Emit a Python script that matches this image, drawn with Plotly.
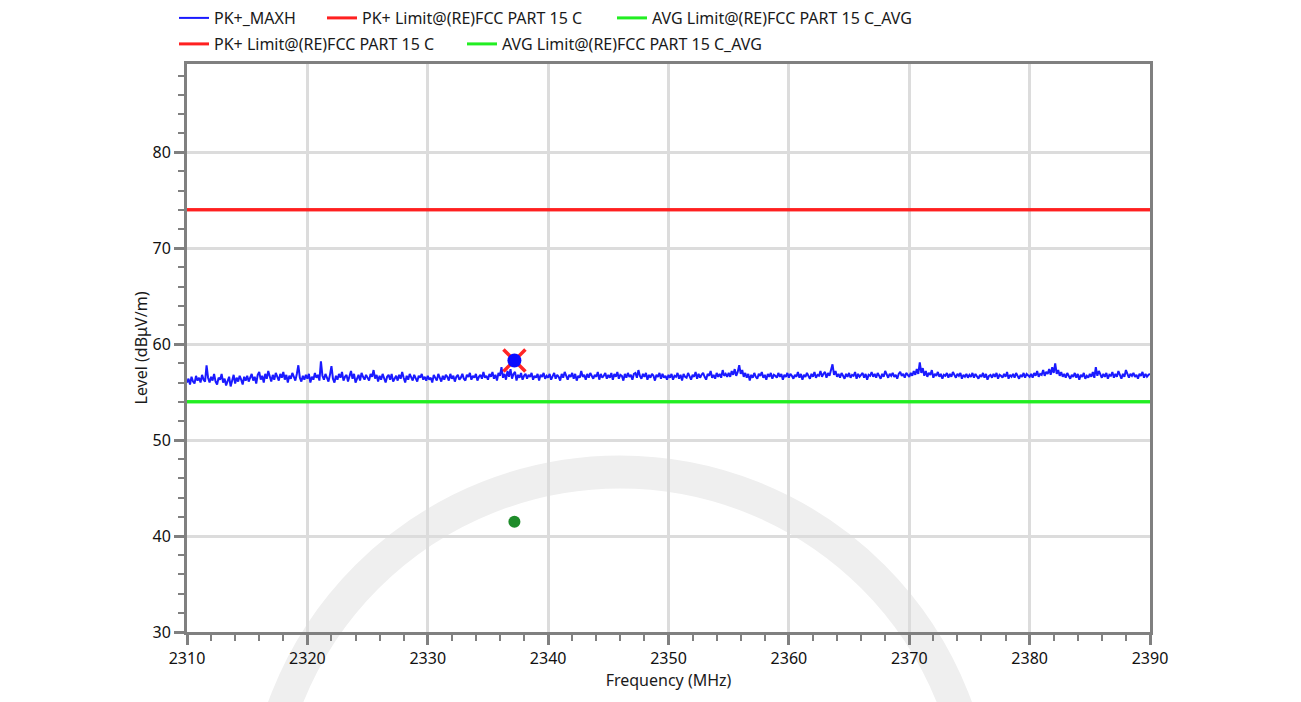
import plotly.graph_objects as go

# sweep grid: 2310 MHz start, 0.125 MHz step
freq_start = 2310
freq_step = 0.125

pk_maxh = [
    # 2310 - 2314.875
    56.0, 56.4, 55.8, 56.6, 56.1, 55.9, 56.7, 56.2, 56.5, 56.0, 56.8, 56.3, 56.1, 57.8, 56.5, 56.0, 56.6, 56.2, 56.9, 56.1,
    55.8, 56.5, 56.3, 56.9, 56.0, 56.4, 55.7, 56.3, 56.6, 55.6, 56.2, 56.8, 55.9, 56.5, 56.1, 56.7, 56.3, 55.8, 56.6, 56.2,
    # 2315 - 2319.875
    56.7, 56.1, 56.5, 56.9, 56.2, 56.6, 55.9, 56.8, 57.1, 56.3, 56.7, 56.0, 56.9, 56.4, 57.2, 56.5, 56.1, 56.8, 56.3, 57.0,
    56.6, 56.2, 56.9, 56.5, 57.1, 56.3, 56.8, 56.0, 56.7, 56.4, 57.0, 56.6, 56.2, 56.9, 57.8, 56.5, 56.1, 56.7, 56.3, 56.8,
    # 2320 - 2324.875
    56.4, 56.9, 56.0, 56.6, 56.3, 57.0, 56.5, 56.8, 56.2, 58.2, 56.7, 56.3, 56.9, 56.5, 56.1, 56.8, 57.7, 56.4, 56.0, 56.7,
    56.3, 56.9, 56.5, 57.1, 56.2, 56.6, 56.8, 56.1, 56.7, 57.2, 56.4, 56.9, 56.0, 56.5, 56.8, 56.2, 57.0, 56.6, 56.3, 56.8,
    # 2325 - 2329.875
    56.5, 56.2, 56.9, 56.6, 57.3, 56.4, 56.8, 56.1, 56.7, 56.3, 56.9, 56.5, 56.0, 56.6, 56.8, 56.3, 56.9, 56.1, 56.5, 56.7,
    56.2, 56.8, 56.4, 57.1, 56.5, 56.0, 56.7, 56.3, 56.9, 56.6, 56.2, 56.8, 56.4, 56.1, 56.7, 56.5, 56.9, 56.3, 56.6, 56.2,
    # 2330 - 2334.875
    56.7, 56.3, 56.5, 56.0, 56.8, 56.4, 56.2, 56.9, 56.5, 56.1, 56.7, 56.3, 56.8, 56.6, 56.2, 56.9, 56.4, 56.7, 56.1, 56.6,
    56.8, 56.3, 56.5, 56.9, 56.4, 56.2, 56.8, 56.6, 57.0, 56.3, 56.7, 56.5, 56.9, 56.2, 56.6, 56.8, 56.4, 57.1, 56.5, 56.7,
    # 2335 - 2339.875
    56.3, 56.9, 56.6, 57.1, 56.4, 56.8, 56.2, 57.0, 56.7, 57.6, 56.5, 56.9, 56.3, 57.2, 56.6, 57.4, 56.4, 56.9, 57.1, 56.2,
    56.8, 56.5, 57.0, 56.3, 56.7, 56.9, 56.4, 56.8, 56.6, 57.0, 56.3, 56.7, 56.5, 56.9, 56.2, 56.8, 56.6, 57.0, 56.4, 56.7,
    # 2340 - 2344.875
    56.5, 56.9, 56.3, 56.7, 57.0, 56.4, 56.8, 56.6, 56.2, 56.9, 56.5, 57.1, 56.7, 56.3, 56.8, 56.6, 57.0, 56.4, 56.9, 56.2,
    56.7, 56.5, 57.2, 56.6, 56.8, 56.3, 56.9, 56.5, 57.0, 56.7, 56.4, 56.8, 56.6, 57.1, 56.3, 56.9, 56.5, 56.7, 57.0, 56.4,
    # 2345 - 2349.875
    56.8, 56.5, 57.0, 56.3, 56.9, 56.6, 57.1, 56.4, 56.8, 56.7, 56.2, 56.9, 56.5, 57.0, 56.6, 56.8, 56.3, 56.9, 57.0, 56.5,
    57.3, 56.7, 56.4, 56.9, 56.6, 57.0, 56.3, 56.8, 56.5, 56.9, 56.7, 56.2, 56.8, 56.6, 57.0, 56.4, 56.9, 56.5, 56.7, 56.3,
    # 2350 - 2354.875
    56.8, 56.5, 56.9, 56.3, 56.7, 56.6, 57.0, 56.4, 56.8, 56.2, 56.9, 56.6, 56.5, 57.0, 56.7, 56.3, 56.8, 56.6, 57.1, 56.4,
    56.9, 56.5, 56.8, 57.0, 56.6, 56.3, 56.9, 56.7, 57.2, 56.5, 56.8, 56.4, 57.0, 56.6, 56.9, 56.5, 57.3, 56.7, 56.9, 56.6,
    # 2355 - 2359.875
    57.0, 56.6, 57.2, 56.8, 57.4, 56.7, 57.1, 57.8, 56.9, 57.3, 56.6, 57.0, 56.5, 56.9, 56.2, 56.8, 56.5, 57.0, 56.6, 56.4,
    56.9, 56.7, 57.1, 56.5, 56.8, 56.3, 56.9, 56.6, 57.0, 56.4, 56.8, 56.7, 56.5, 57.0, 56.6, 56.9, 56.3, 56.8, 56.6, 57.0,
    # 2360 - 2364.875
    56.5, 56.9, 56.7, 56.4, 56.8, 56.6, 57.1, 56.5, 56.9, 56.3, 56.8, 56.6, 57.0, 56.7, 56.4, 56.9, 56.6, 57.1, 56.5, 56.8,
    56.7, 57.2, 56.6, 56.9, 57.1, 56.5, 57.0, 56.7, 57.3, 57.9, 56.8, 57.2, 56.6, 56.9, 56.5, 57.0, 56.7, 56.4, 56.9, 56.6,
    # 2365 - 2369.875
    57.0, 56.5, 56.8, 56.7, 57.1, 56.4, 56.9, 56.6, 56.8, 57.0, 56.5, 56.9, 56.3, 56.8, 56.7, 57.1, 56.6, 56.9, 56.5, 57.0,
    56.7, 56.4, 56.9, 56.6, 57.2, 56.8, 56.5, 56.9, 56.7, 57.0, 56.6, 56.8, 56.4, 56.9, 57.1, 56.7, 56.9, 56.5, 57.0, 56.8,
    # 2370 - 2374.875
    56.6, 57.0, 56.7, 57.2, 56.8, 57.4, 56.9, 58.1, 57.0, 57.5, 56.7, 57.2, 56.6, 57.0, 56.8, 57.3, 56.5, 56.9, 56.7, 57.1,
    56.6, 56.9, 56.4, 56.8, 56.7, 57.0, 56.5, 56.9, 56.6, 57.1, 56.8, 56.5, 56.9, 56.7, 57.0, 56.4, 56.8, 56.6, 56.9, 56.5,
    # 2375 - 2379.875
    56.8, 56.6, 57.0, 56.5, 56.9, 56.7, 56.4, 56.8, 56.6, 57.0, 56.5, 56.9, 56.3, 56.7, 56.8, 56.5, 56.9, 56.6, 57.0, 56.4,
    56.8, 56.7, 56.5, 56.9, 56.6, 57.1, 56.4, 56.8, 56.6, 56.9, 56.5, 57.0, 56.7, 56.4, 56.8, 56.6, 57.0, 56.5, 56.9, 56.7,
    # 2380 - 2384.875
    56.6, 56.9, 56.5, 57.0, 56.7, 57.2, 56.6, 56.9, 56.8, 57.3, 56.7, 57.1, 56.9, 57.4, 56.8, 57.6, 57.0, 58.0, 56.9, 57.3,
    56.7, 57.1, 56.6, 56.9, 56.5, 57.0, 56.7, 56.4, 56.8, 56.6, 57.0, 56.5, 56.9, 56.3, 56.8, 56.6, 57.0, 56.4, 56.7, 56.5,
    # 2385 - 2390
    56.9, 56.6, 57.1, 56.5, 57.6, 56.7, 57.2, 56.8, 56.5, 56.9, 56.6, 57.0, 56.4, 56.8, 56.7, 57.1, 56.5, 56.9, 56.6, 57.2,
    56.7, 56.4, 56.9, 56.6, 57.3, 56.8, 56.5, 56.9, 56.7, 57.0, 56.6, 56.8, 56.4, 56.9, 56.7, 57.1, 56.5, 56.9, 56.6, 56.8,
    56.9,
]

limit_freq = [2310, 2390]
pk_limit = [74, 74]
avg_limit = [54, 54]

peak_freq = [2337.2]
peak_level = [58.3]
avg_freq = [2337.2]
avg_level = [41.5]

names = ["PK+_MAXH", "PK+ Limit@(RE)FCC PART 15 C", "AVG Limit@(RE)FCC PART 15 C_AVG"]

BLUE = "#1a1aff"
RED = "#ff2020"
GREEN = "#22ee22"
AXIS_GREY = "#808080"
GRID = "#dcdcdc"

fig = go.Figure()

fig.add_trace(go.Scatter(x=limit_freq, y=pk_limit, mode="lines", name=names[1], legendwidth=243,
                         line=dict(color=RED, width=3), legend="legend2", legendrank=1))
fig.add_trace(go.Scatter(x=limit_freq, y=avg_limit, mode="lines", name=names[2],
                         line=dict(color=GREEN, width=3), legend="legend2", legendrank=2))
fig.add_trace(go.Scatter(x0=freq_start, dx=freq_step, y=pk_maxh, mode="lines", name=names[0], legendwidth=103,
                         line=dict(color=BLUE, width=2), legendrank=1))
fig.add_trace(go.Scatter(x=limit_freq, y=pk_limit, mode="lines", name=names[1], legendwidth=245,
                         line=dict(color=RED, width=3), legendrank=2))
fig.add_trace(go.Scatter(x=limit_freq, y=avg_limit, mode="lines", name=names[2],
                         line=dict(color=GREEN, width=3), legendrank=3))

# final measurement markers
fig.add_trace(go.Scatter(x=peak_freq, y=peak_level, mode="markers", showlegend=False,
                         marker=dict(symbol="x-thin", size=22, line=dict(color="rgba(255,0,0,0.85)", width=3.5))))
fig.add_trace(go.Scatter(x=peak_freq, y=peak_level, mode="markers", showlegend=False,
                         marker=dict(symbol="circle", size=14, color="#0a0aff")))
fig.add_trace(go.Scatter(x=avg_freq, y=avg_level, mode="markers", showlegend=False,
                         marker=dict(symbol="circle", size=12, color="#1e8c2a")))

# page body has an 8px margin, so the figure is sized and offset to compensate
OFF = 8
W, H = 1301 - OFF, 702 - OFF
L, T = 187 - OFF, 64 - OFF
R, B = W - (1150 - OFF), H - (632 - OFF)
pw, ph = W - L - R, H - T - B


def px_x(v):
    return (v - OFF - L) / pw


def px_y(v):
    return (H - B - (v - OFF)) / ph


# faint watermark ring and right frame edge
ring_cx, ring_cy, ring_r = 620, 830, 358
fig.add_shape(type="circle", xref="paper", yref="paper", layer="below",
              x0=px_x(ring_cx - ring_r), x1=px_x(ring_cx + ring_r),
              y0=px_y(ring_cy + ring_r), y1=px_y(ring_cy - ring_r),
              line=dict(color="#efefef", width=33))
fig.add_shape(type="line", xref="paper", yref="paper", layer="above",
              x0=px_x(1299), x1=px_x(1299), y0=px_y(720), y1=px_y(8),
              line=dict(color="black", width=3))

text_font = dict(family="Noto Sans", size=16, color="#1a1a1a")
legend_common = dict(orientation="h", xref="paper", yref="paper", xanchor="left",
                     yanchor="middle", bgcolor="rgba(0,0,0,0)", borderwidth=0,
                     font=text_font, itemwidth=30, tracegroupgap=0)
legend_x = px_x(174)

fig.update_layout(
    width=W, height=H,
    margin=dict(l=L, r=R, t=T, b=B, autoexpand=False),
    paper_bgcolor="white",
    plot_bgcolor="rgba(0,0,0,0)",
    showlegend=True,
    legend=dict(x=legend_x, y=px_y(18), **legend_common),
    legend2=dict(x=legend_x, y=px_y(44), **legend_common),
    xaxis=dict(
        range=[2310, 2390], dtick=10, tick0=2310,
        showline=True, linecolor=AXIS_GREY, linewidth=3, mirror=True,
        ticks="outside", ticklen=10, tickwidth=3, tickcolor=AXIS_GREY,
        showgrid=True, gridcolor=GRID, gridwidth=3, zeroline=False,
        minor=dict(dtick=2, ticks="outside", ticklen=6, tickwidth=2, tickcolor=AXIS_GREY, showgrid=False),
        tickfont=dict(family="Noto Sans", size=16, color="#111111"),
        title=dict(text="Frequency (MHz)", font=text_font, standoff=6),
    ),
    yaxis=dict(
        range=[30, 89.2], dtick=10, tick0=30,
        showline=True, linecolor=AXIS_GREY, linewidth=3, mirror=True,
        ticks="outside", ticklen=10, tickwidth=3, tickcolor=AXIS_GREY,
        showgrid=True, gridcolor=GRID, gridwidth=3, zeroline=False,
        minor=dict(dtick=2, ticks="outside", ticklen=6, tickwidth=2, tickcolor=AXIS_GREY, showgrid=False),
        tickfont=dict(family="Noto Sans", size=16, color="#111111"),
        title=dict(text="Level (dBμV/m)", font=text_font, standoff=0),
    ),
)

fig.write_html("out.html")
